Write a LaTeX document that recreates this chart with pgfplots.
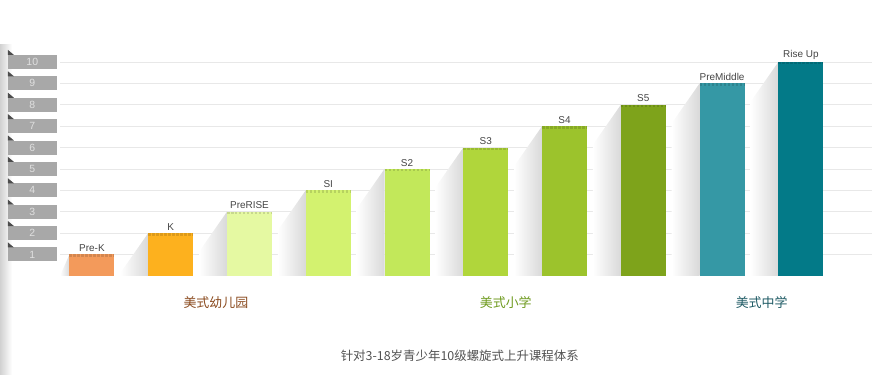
\documentclass[border=0pt]{standalone}
\usepackage{pgfplots}
\pgfplotsset{compat=1.18}
\usepackage{fontspec}
\setmainfont{Liberation Sans}
\newfontfamily\cjk{Noto Sans CJK SC}
\definecolor{cA}{HTML}{F39A5B}
\definecolor{cB}{HTML}{FDB11E}
\definecolor{cC}{HTML}{E5F9A2}
\definecolor{cD}{HTML}{D3F26F}
\definecolor{cE}{HTML}{C2E85A}
\definecolor{cF}{HTML}{B0D63B}
\definecolor{cG}{HTML}{9CC32C}
\definecolor{cH}{HTML}{7EA31B}
\definecolor{cI}{HTML}{3598A5}
\definecolor{cJ}{HTML}{037A88}
\definecolor{tickbox}{HTML}{A8A8A8}
\definecolor{lbl}{HTML}{444444}
\definecolor{gK}{HTML}{8A4A1E}
\definecolor{gP}{HTML}{6E9A1E}
\definecolor{gM}{HTML}{1E5A64}
\begin{document}
\begin{tikzpicture}[x=1bp,y=1bp]
\path (0,0) rectangle (872,375);
\shade[left color=black!18, right color=white] (0,0) rectangle (12,330);
\begin{axis}[
  at={(60bp,99bp)}, anchor=south west,
  scale only axis, width=812bp, height=235.4bp,
  xmin=-0.406, xmax=9.898, ymin=0, ymax=11,
  axis line style={draw=none},
  xtick=\empty,
  ytick={1,...,10},
  major tick length=0pt,
  ymajorgrids, grid style={black!9, line width=0.8pt},
  /pgf/number format/assume math mode=true,
  unbounded coords=jump,
  yticklabel style={fill=tickbox, text=white!88!black, minimum width=49bp, minimum height=14bp,
     inner sep=0pt, anchor=east, xshift=-3bp, font=\fontsize{10.5}{10.5}\selectfont},
  mybar/.style={ybar, bar width=45bp, bar shift=0pt, draw=none,
     nodes near coords style={font=\fontsize{10}{10}\selectfont, text=lbl, inner sep=2.5pt}},
  shadow/.style={draw=none, mark=none, left color=white, right color=black!15},
]
% soft shadows to the left of the bars
\addplot[shadow] coordinates {(-0.4055,0) (-0.2855,1)} \closedcycle;
\addplot[shadow] coordinates {(0.3595,0.13) (0.7145,2)} \closedcycle;
\addplot[shadow] coordinates {(1.3595,1.13) (1.7145,3)} \closedcycle;
\addplot[shadow] coordinates {(2.3595,2.13) (2.7145,4)} \closedcycle;
\addplot[shadow] coordinates {(3.3595,3.13) (3.7145,5)} \closedcycle;
\addplot[shadow] coordinates {(4.3595,4.13) (4.7145,6)} \closedcycle;
\addplot[shadow] coordinates {(5.3595,5.13) (5.7145,7)} \closedcycle;
\addplot[shadow] coordinates {(6.3595,6.13) (6.7145,8)} \closedcycle;
\addplot[shadow] coordinates {(7.3595,7.13) (7.7145,9)} \closedcycle;
\addplot[shadow] coordinates {(8.3595,8.13) (8.7145,10)} \closedcycle;
% bars
\addplot[mybar, fill=cA, nodes near coords={Pre-K}] coordinates {(0,1)};
\addplot[mybar, fill=cB, nodes near coords={K}] coordinates {(1,2)};
\addplot[mybar, fill=cC, nodes near coords={PreRISE}] coordinates {(2,3)};
\addplot[mybar, fill=cD, nodes near coords={SI}] coordinates {(3,4)};
\addplot[mybar, fill=cE, nodes near coords={S2}] coordinates {(4,5)};
\addplot[mybar, fill=cF, nodes near coords={S3}] coordinates {(5,6)};
\addplot[mybar, fill=cG, nodes near coords={S4}] coordinates {(6,7)};
\addplot[mybar, fill=cH, nodes near coords={S5}] coordinates {(7,8)};
\addplot[mybar, fill=cI, nodes near coords={PreMiddle}] coordinates {(8,9)};
\addplot[mybar, fill=cJ, nodes near coords={Rise Up}] coordinates {(9,10)};
% darker hatched band at the top of each bar
\addplot[black, opacity=0.13, line width=2.5bp, mark=none, yshift=-1.25bp, dash pattern=on 2.5bp off 1.5bp] coordinates {
 (-0.2855,1) (0.2855,1) (0,inf)
 (0.7145,2) (1.2855,2) (1,inf)
 (1.7145,3) (2.2855,3) (2,inf)
 (2.7145,4) (3.2855,4) (3,inf)
 (3.7145,5) (4.2855,5) (4,inf)
 (4.7145,6) (5.2855,6) (5,inf)
 (5.7145,7) (6.2855,7) (6,inf)
 (6.7145,8) (7.2855,8) (7,inf)
 (7.7145,9) (8.2855,9) (8,inf)
 (8.7145,10) (9.2855,10)
};
\end{axis}
\foreach \k in {1,...,10} {
  \fill[black!70] (8,{99+21.4*\k+7}) -- ++(0,5) -- ++(6,-5) -- cycle;
}
\node[font=\cjk\fontsize{13}{13}\selectfont, color=gK] at (216,72) {美式幼儿园};
\node[font=\cjk\fontsize{13}{13}\selectfont, color=gP] at (506,72) {美式小学};
\node[font=\cjk\fontsize{13}{13}\selectfont, color=gM] at (762,72) {美式中学};
\node[font=\cjk\fontsize{12.5}{13}\selectfont, color=black!68] at (460,19) {针对3-18岁青少年10级螺旋式上升课程体系};
\end{tikzpicture}
\end{document}
